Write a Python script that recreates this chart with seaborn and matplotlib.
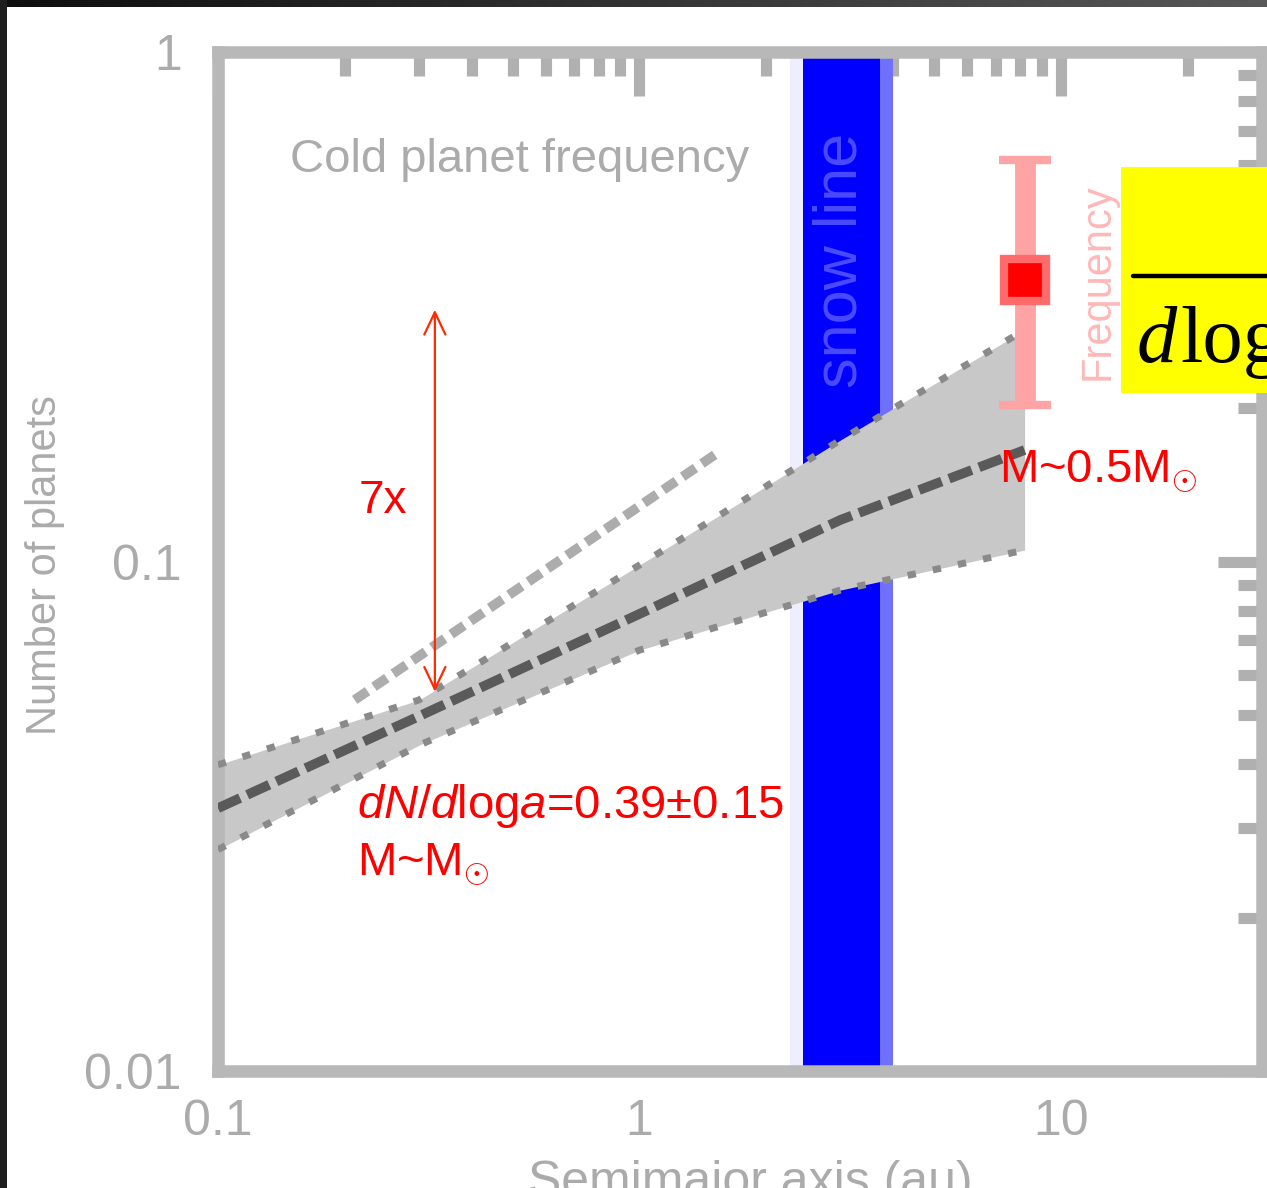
import numpy as np
import matplotlib
matplotlib.use("Agg")
import matplotlib.pyplot as plt
from matplotlib.patches import Rectangle
from matplotlib.lines import Line2D
from matplotlib.colors import LinearSegmentedColormap
import seaborn as sns

# ---- data -------------------------------------------------------------
# power-law fit (dN/dlog a) and its uncertainty wedge
fit_a = [0.1, 0.3, 1.0, 3.0, 8.2]
fit_mid = [0.0328, 0.0497, 0.0789, 0.1207, 0.1655]
fit_hi = [0.0399, 0.0535, 0.0984, 0.1732, 0.2847]
fit_lo = [0.0272, 0.0436, 0.0670, 0.0879, 0.1053]

# steeper comparison model
alt_a = [0.211, 1.51]
alt_n = [0.0535, 0.162]

# snow-line band (au)
snow_core = (2.44, 3.72)
snow_edge_in = (2.28, 2.44)
snow_edge_out = (3.72, 3.99)

# measurement for M ~ 0.5 Msun hosts
pt_a = [8.2]
pt_n = [0.357]
pt_lo = [0.203]
pt_hi = [0.614]

# "7x" comparison arrow
arrow_a = 0.327
arrow_top = 0.312
arrow_bottom = 0.0555

x_ticks = [0.1, 1, 10]
x_tick_labels = ["0.1", "1", "10"]
y_ticks = [0.01, 0.1, 1]
y_tick_labels = ["0.01", "0.1", "1"]

# ---- style ------------------------------------------------------------
sns.set_theme(style="white")
plt.rcParams["font.family"] = ["Liberation Sans", "DejaVu Sans"]
plt.rcParams["mathtext.fontset"] = "custom"
plt.rcParams["mathtext.rm"] = "Liberation Sans"
plt.rcParams["mathtext.it"] = "Liberation Sans:italic"

W, H = 1267, 1188
fig = plt.figure(figsize=(W / 100, H / 100), dpi=100)
fig.patch.set_facecolor("white")


def fx(px):
    return px / W


def fy(py):
    return 1 - py / H


GREY_TXT = "#ababab"
GREY_AX = "#b8b8b8"

ax = fig.add_axes([fx(218), fy(1071), fx(1262) - fx(218), fy(52) - fy(1071)])
ax.set_xscale("log")
ax.set_yscale("log")
ax.set_xlim(0.1, 30)
ax.set_ylim(0.01, 1)
ax.set_facecolor("white")

# snow-line band
ax.axvspan(*snow_edge_in, color="#eeeeff", lw=0, zorder=1)
ax.axvspan(*snow_core, color="#0000ff", lw=0, zorder=1)
ax.axvspan(*snow_edge_out, color="#7070ff", lw=0, zorder=1)
ax.text(np.sqrt(snow_core[0] * snow_core[1]), 0.389, "snow line", rotation=90,
        ha="center", va="center", fontsize=44, color="#4a4aff", zorder=1.5)

# fit wedge and lines
ax.fill_between(fit_a, fit_lo, fit_hi, color="#c8c8c8", lw=0, zorder=2)
sns.lineplot(x=fit_a, y=fit_hi, ax=ax, color="#8a8a8a", lw=5,
             linestyle=(0, (1.2, 2.5)), zorder=3)
sns.lineplot(x=fit_a, y=fit_lo, ax=ax, color="#8a8a8a", lw=5,
             linestyle=(0, (1.2, 2.5)), zorder=3)
sns.lineplot(x=fit_a, y=fit_mid, ax=ax, color="#5a5a5a", lw=7,
             linestyle=(0, (2.5, 0.8)), zorder=4)
sns.lineplot(x=alt_a, y=alt_n, ax=ax, color="#acacac", lw=7,
             linestyle=(0, (1.6, 0.8)), zorder=3)

# measurement with error bar
ax.errorbar(pt_a, pt_n,
            yerr=[[pt_n[0] - pt_lo[0]], [pt_hi[0] - pt_n[0]]],
            fmt="s", ms=30, mfc="#ff0000", mec="#ff6a6a", mew=6,
            ecolor="#ffa4a4", elinewidth=15, capsize=19, capthick=9, zorder=6)

# faint label beside the measurement
ax.text(12.2, 0.354, "Frequency", rotation=90, ha="center", va="center",
        fontsize=30, color="#ffb8b8", zorder=5)

# 7x arrow
ax.annotate("", xy=(arrow_a, arrow_bottom), xytext=(arrow_a, arrow_top),
            arrowprops=dict(arrowstyle="<->,head_length=0.8,head_width=0.38",
                            color="#ff2a00", lw=1.6, shrinkA=0, shrinkB=0,
                            mutation_scale=20), zorder=7)

# axes styling
ax.set_xticks(x_ticks, x_tick_labels)
ax.set_yticks(y_ticks, y_tick_labels)
ax.tick_params(which="both", direction="in", top=True, right=True,
               color="#b0b0b0", labelcolor=GREY_TXT, labelsize=36)
ax.tick_params(which="major", length=32, width=8)
ax.tick_params(which="minor", length=17, width=8)
ax.tick_params(axis="y", pad=26)
ax.tick_params(axis="x", pad=20)
for sp in ax.spines.values():
    sp.set_color(GREY_AX)
    sp.set_linewidth(9)

ax.set_xlabel("Semimajor axis (au)", fontsize=36, color=GREY_TXT)
ax.xaxis.set_label_coords(0.5096, -0.0873)
ax.xaxis.label.set_va("top")
ax.set_ylabel("Number of planets", fontsize=30, color=GREY_TXT)
ax.yaxis.set_label_coords(-0.1466, 0.4966)
ax.text(0.069, 0.894, "Cold planet frequency", transform=ax.transAxes,
        fontsize=34, color=GREY_TXT, va="center", ha="left")

# red annotations
RED = "#ff0000"
fig.text(fx(359), fy(513), "7x", fontsize=33, color=RED, va="baseline")
fig.text(fx(357), fy(818), r"$dN$/$d$log$a$=0.39±0.15", fontsize=34,
         color=RED, va="baseline")
fig.text(fx(357), fy(875), r"M~$\mathrm{M}_{\odot}$", fontsize=34,
         color=RED, va="baseline")
fig.text(fx(999), fy(482), r"M~0.5$\mathrm{M}_{\odot}$", fontsize=34,
         color=RED, va="baseline")

# yellow formula box
fig.add_artist(Rectangle((fx(1121), fy(393)), 1.02 - fx(1121), fy(167) - fy(393),
                         transform=fig.transFigure, facecolor="#ffff00",
                         edgecolor="none", zorder=10))
fig.add_artist(Line2D([fx(1133), 1.02], [fy(275.5), fy(275.5)], color="black",
                      lw=3.2, transform=fig.transFigure, zorder=11))
fig.text(fx(1137), fy(362), "d", fontfamily="Liberation Serif", style="italic",
         fontsize=58, color="black", va="baseline", zorder=11)
fig.text(fx(1180), fy(362), "log", fontfamily="Liberation Serif",
         fontsize=58, color="black", va="baseline", zorder=11)

# dark frame along the top and left edges
top = fig.add_axes([0, fy(7), 1, 7 / H])
top.imshow(np.linspace(0, 1, 256)[None, :], aspect="auto",
           cmap=LinearSegmentedColormap.from_list("edge", ["#0e0e0e", "#585858"]))
top.axis("off")
fig.add_artist(Rectangle((0, 0), 7 / W, 1, transform=fig.transFigure,
                         facecolor="#1e1e1e", edgecolor="none", zorder=20))

fig.savefig("out.png", dpi=100)
